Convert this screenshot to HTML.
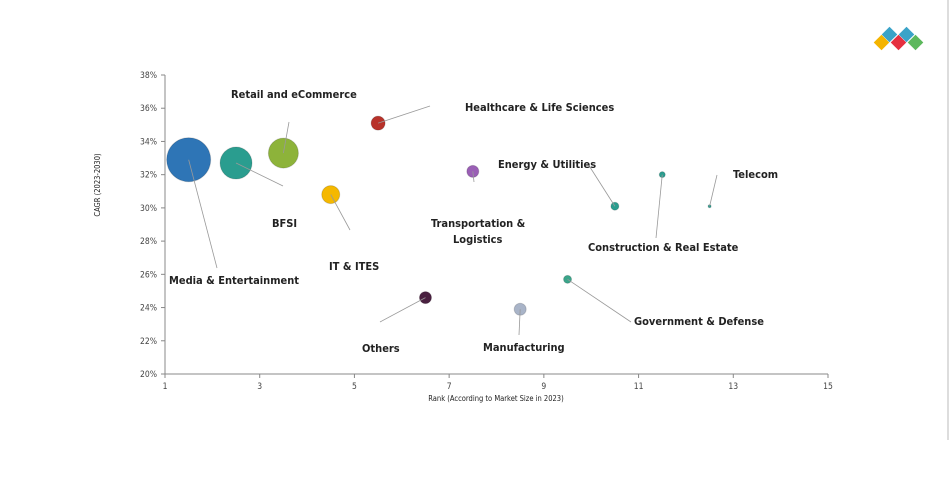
<!DOCTYPE html>
<html><head><meta charset="utf-8"><style>
body{margin:0;background:#fff;width:950px;height:489px;overflow:hidden}
svg{display:block}
text{font-family:"DejaVu Sans Condensed","Liberation Sans Narrow",sans-serif}
.lab{font-weight:bold;font-size:11px;fill:#222}
.tick{font-size:8.5px;fill:#444}
</style></head><body>
<svg id="c" width="950" height="489">
<line x1="948" y1="0" x2="948" y2="440" stroke="#bbb"/>
<g>
<rect x="876" y="37" width="11" height="11" fill="#f4b400" transform="rotate(45 881.5 42.5)"/>
<rect x="884" y="29" width="11" height="11" fill="#3aa3c8" transform="rotate(45 889.5 34.5)"/>
<rect x="893" y="37" width="11" height="11" fill="#e53040" transform="rotate(45 898.5 42.5)"/>
<rect x="901" y="29" width="11" height="11" fill="#3aa3c8" transform="rotate(45 906.5 34.5)"/>
<rect x="910" y="37" width="11" height="11" fill="#5cb85c" transform="rotate(45 915.5 42.5)"/>
</g>
</svg>
<script>
const categories=["Media & Entertainment","BFSI","Retail and eCommerce","IT & ITES","Healthcare & Life Sciences","Transportation & Logistics","Others","Manufacturing","Government & Defense","Energy & Utilities","Construction & Real Estate","Telecom"];
const rankValues=[1.5,2.5,3.5,4.5,5.5,7.5,6.5,8.5,9.5,10.5,11.5,12.5];
const cagrValues=[32.9,32.7,33.3,30.8,35.1,32.2,24.6,23.9,25.7,30.1,32.0,30.1];
const sizeValues=[22,16,15,9,7,6,6,6,4,4,3,1.5];
const colors=["#2e75b6","#2a9d8f","#8db33a","#f5b800","#b8322a","#9a5fb5","#4a2040","#a9b4c8","#3aa58a","#2a9d8f","#2a9d8f","#2a9d8f"];
const xTicks=[1,3,5,7,9,11,13,15];
const yTicks=[20,22,24,26,28,30,32,34,36,38];
// label layout: [leaderEndX, leaderEndY, labelX, labelY]
const layout=[[217,268,169,284],[283,186,272,227],[289,122,231,98],[350,230,329,270],[430,106,465,111],[474,182,431,227],[380,322,362,352],[519,335,483,351],[631,322,634,325],[588,164,498,168],[656,238,588,251],[717,175,733,178]];
const X=v=>165+(v-1)*(663/14), Y=v=>374-(v-20)*(299/18);
const svg=document.getElementById('c'),NS="http://www.w3.org/2000/svg";
function mk(t,a,p){const e=document.createElementNS(NS,t);for(const k in a)e.setAttribute(k,a[k]);(p||svg).appendChild(e);return e;}
let ax=mk('line',{x1:X(1),y1:Y(20),x2:X(15),y2:Y(20),stroke:'#888'});


let ay=mk('line',{x1:X(1),y1:Y(20),x2:X(1),y2:Y(38),stroke:'#888'});


xTicks.forEach(v=>{mk('line',{x1:X(v),y1:Y(20),x2:X(v),y2:Y(20)+4,stroke:'#888'});
const t=mk('text',{x:X(v),y:Y(20)+15,'text-anchor':'middle',class:'tick'});t.textContent=v;

});
yTicks.forEach(v=>{mk('line',{x1:X(1)-4,y1:Y(v),x2:X(1),y2:Y(v),stroke:'#888'});
const t=mk('text',{x:X(1)-8,y:Y(v)+3,'text-anchor':'end',class:'tick'});t.textContent=v+'%';

});
let xt=mk('text',{x:496,y:401,'text-anchor':'middle','font-size':'7.5px',fill:'#222'});xt.textContent='Rank (According to Market Size in 2023)';


let yt=mk('text',{x:0,y:0,'text-anchor':'middle','font-size':'7.5px',fill:'#222',transform:'translate(100,185) rotate(-90)'});yt.textContent='CAGR (2023-2030)';


categories.forEach((c,i)=>{
const cx=X(rankValues[i]),cy=Y(cagrValues[i]);const L=layout[i];
const b=mk('circle',{cx:cx,cy:cy,r:sizeValues[i],fill:colors[i],stroke:'rgba(0,0,0,0.15)'});


const l=mk('line',{x1:cx,y1:cy,x2:L[0],y2:L[1],stroke:'#999','stroke-width':0.8});


const t=mk('text',{x:L[2],y:L[3],class:'lab'});
if(c.startsWith('Transportation')){t.textContent='Transportation &';const t2=mk('text',{x:L[2]+22,y:L[3]+16,class:'lab'});t2.textContent='Logistics';

}
else t.textContent=c;


});
</script>
</body></html>
